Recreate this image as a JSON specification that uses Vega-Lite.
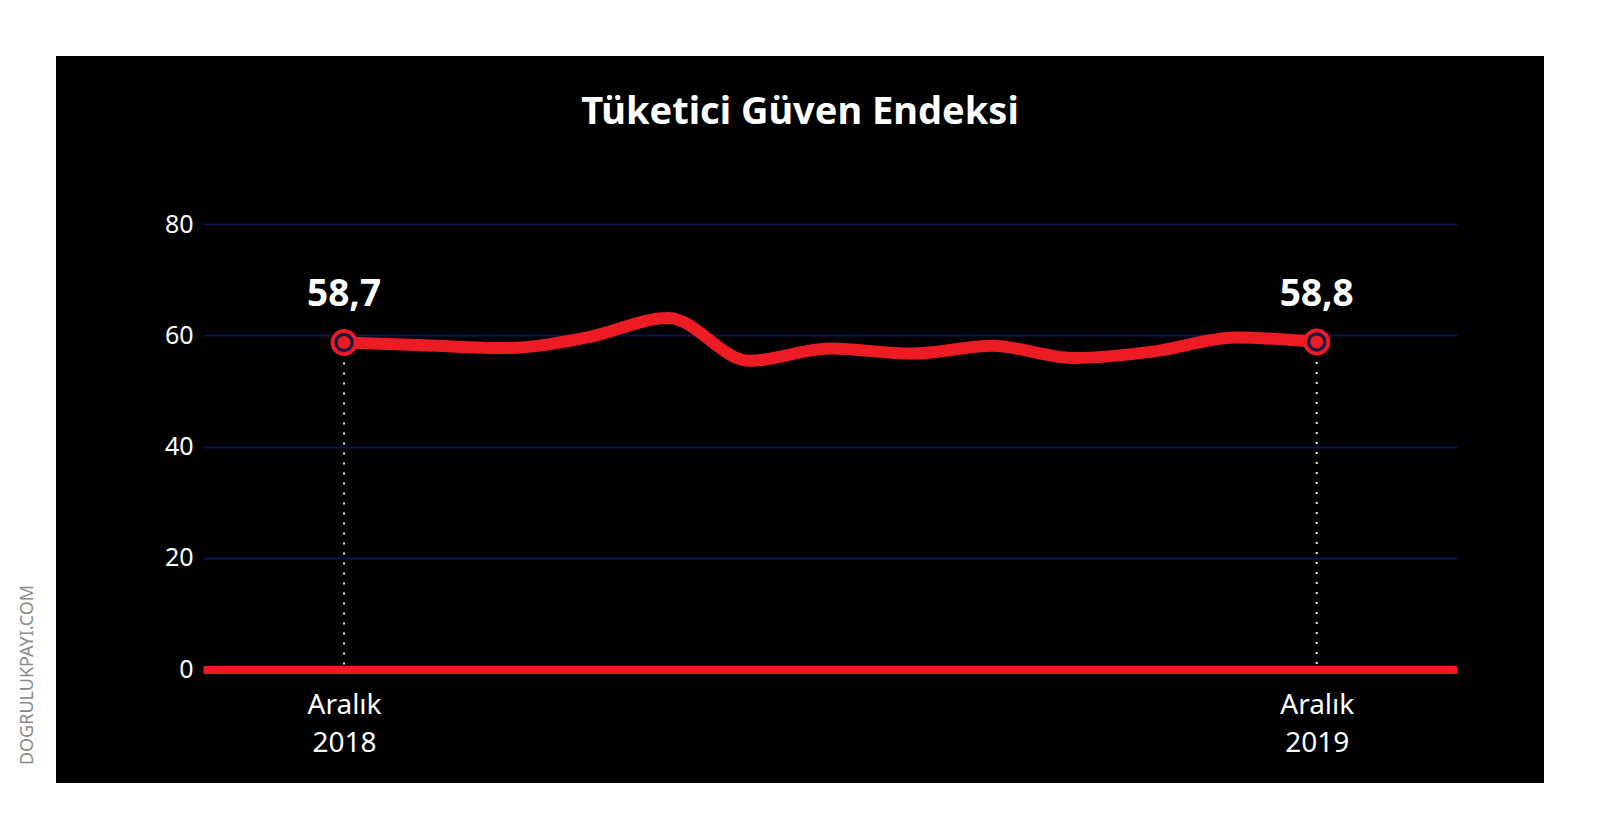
{
  "$schema": "https://vega.github.io/schema/vega-lite/v6.json",
  "width": 1488,
  "height": 727,
  "autosize": {"type": "none"},
  "padding": {"left": 56, "top": 56, "right": 56, "bottom": 57},
  "background": "white",
  "title": {
    "text": "Tüketici Güven Endeksi",
    "font": "Noto Sans",
    "fontSize": 38,
    "fontWeight": "bold",
    "color": "white",
    "anchor": "middle",
    "frame": "group",
    "baseline": "alphabetic",
    "offset": -106
  },
  "config": {
    "view": {"fill": "black", "stroke": null},
    "locale": {"number": {"decimal": ",", "thousands": ".", "grouping": [3], "currency": ["", " TL"]}}
  },
  "data": {
    "values": [
      {"i": 0, "month": "Aralık 2018", "value": 58.7},
      {"i": 1, "month": "Ocak 2019", "value": 58.2},
      {"i": 2, "month": "Şubat 2019", "value": 57.7},
      {"i": 3, "month": "Mart 2019", "value": 59.6},
      {"i": 4, "month": "Nisan 2019", "value": 63.1},
      {"i": 5, "month": "Mayıs 2019", "value": 55.4},
      {"i": 6, "month": "Haziran 2019", "value": 57.6},
      {"i": 7, "month": "Temmuz 2019", "value": 56.7},
      {"i": 8, "month": "Ağustos 2019", "value": 58.1},
      {"i": 9, "month": "Eylül 2019", "value": 55.9},
      {"i": 10, "month": "Ekim 2019", "value": 57.1},
      {"i": 11, "month": "Kasım 2019", "value": 59.6},
      {"i": 12, "month": "Aralık 2019", "value": 58.8}
    ]
  },
  "encoding": {
    "x": {
      "field": "i",
      "type": "quantitative",
      "scale": {"domain": [-1.74, 13.73], "range": [147, 1401], "nice": false, "zero": false},
      "axis": {
        "values": [0, 12],
        "labelExpr": "datum.value == 0 ? ['Aralık', '2018'] : ['Aralık', '2019']",
        "grid": false,
        "ticks": false,
        "tickSize": 0,
        "domainColor": "#ed1c24",
        "domainWidth": 8,
        "domainCap": "butt",
        "offset": -113.5,
        "labelPadding": 22,
        "labelBaseline": "top",
        "labelLineHeight": 38,
        "labelFontSize": 28,
        "labelFont": "Noto Sans",
        "labelColor": "white",
        "labelAlign": "center",
        "labelFlush": false,
        "labelOverlap": false,
        "title": null
      }
    },
    "y": {
      "field": "value",
      "type": "quantitative",
      "scale": {"domain": [0, 80], "range": [613, 168], "nice": false},
      "axis": {
        "values": [0, 20, 40, 60, 80],
        "grid": true,
        "gridColor": "#0c1452",
        "gridWidth": 2,
        "domain": false,
        "ticks": false,
        "offset": -147,
        "labelPadding": 10,
        "labelFontSize": 25,
        "labelFont": "Noto Sans",
        "labelColor": "white",
        "labelBaseline": "middle",
        "title": "DOGRULUKPAYI.COM",
        "titleX": -176,
        "titleY": 618.5,
        "titleAngle": -90,
        "titleAlign": "center",
        "titleBaseline": "middle",
        "titleColor": "#8a8a8a",
        "titleFont": "Noto Sans",
        "titleFontSize": 18,
        "titleFontWeight": "normal"
      }
    }
  },
  "layer": [
    {
      "transform": [{"filter": "datum.i == 0 || datum.i == 12"}],
      "mark": {"type": "rule", "color": "#e8e8e8", "strokeWidth": 2, "strokeDash": [2, 8]},
      "encoding": {"y2": {"datum": 0}}
    },
    {
      "mark": {"type": "line", "color": "#ed1c24", "strokeWidth": 12, "interpolate": "monotone", "strokeCap": "round", "strokeJoin": "round"}
    },
    {
      "transform": [{"filter": "datum.i == 0 || datum.i == 12"}],
      "mark": {"type": "point", "shape": "circle", "filled": true, "color": "#ed1c24", "size": 729, "opacity": 1, "strokeWidth": 0}
    },
    {
      "transform": [{"filter": "datum.i == 0 || datum.i == 12"}],
      "mark": {"type": "point", "shape": "circle", "filled": true, "color": "#1c1646", "size": 380, "opacity": 1, "strokeWidth": 0}
    },
    {
      "transform": [{"filter": "datum.i == 0 || datum.i == 12"}],
      "mark": {"type": "point", "shape": "circle", "filled": true, "color": "#ed1c24", "size": 169, "opacity": 1, "strokeWidth": 0}
    },
    {
      "transform": [{"filter": "datum.i == 0 || datum.i == 12"}],
      "mark": {"type": "text", "font": "Noto Sans", "fontSize": 37, "fontWeight": "bold", "color": "white", "baseline": "alphabetic", "align": "center", "dy": -36},
      "encoding": {"text": {"field": "value", "type": "quantitative", "format": ".1f"}}
    }
  ]
}
